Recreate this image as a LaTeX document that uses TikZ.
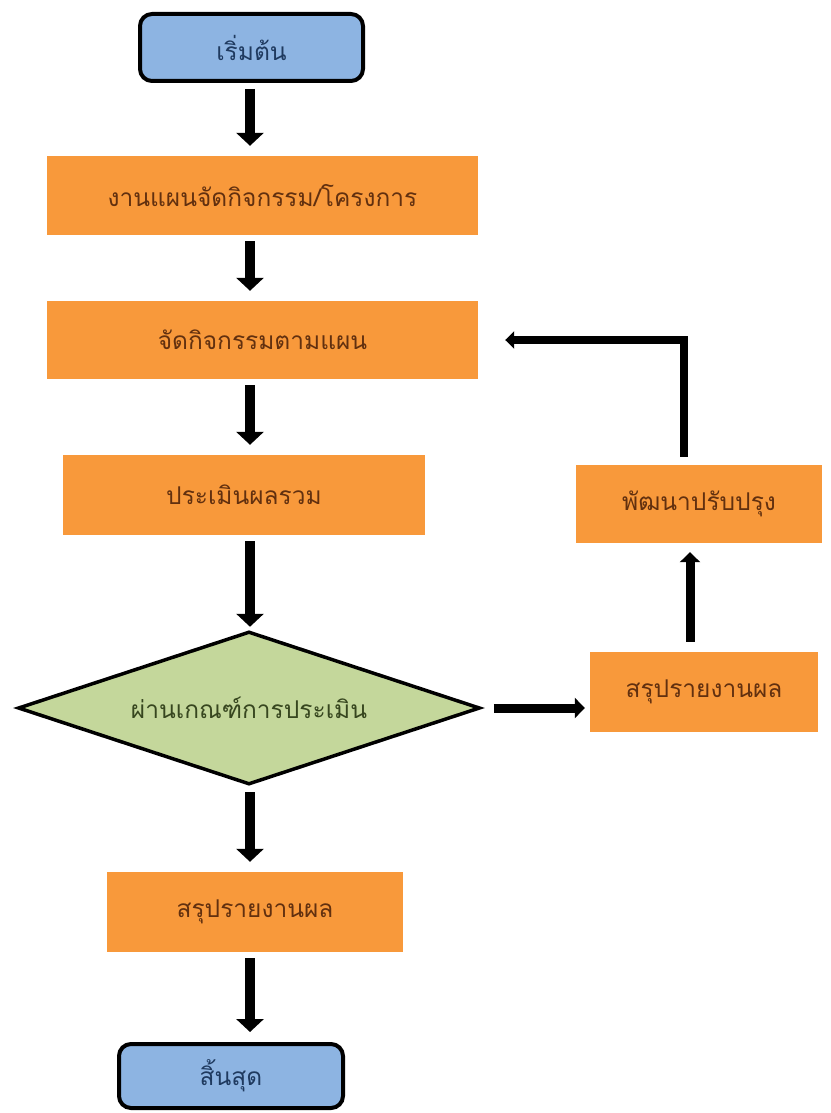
\documentclass[tikz,border=0pt]{standalone}
\usepackage{fontspec}
\newfontfamily\thaifont[Script=Thai]{Loma}
\usetikzlibrary{shapes.geometric,arrows.meta}

\definecolor{boxorange}{HTML}{F8993B}
\definecolor{boxblue}{HTML}{8DB4E2}
\definecolor{boxgreen}{HTML}{C4D79B}
\definecolor{txtbrown}{HTML}{62300F}
\definecolor{txtblue}{HTML}{1F3A5F}
\definecolor{txtgreen}{HTML}{37461F}

\begin{document}
\begin{tikzpicture}[x=1pt,y=-1pt,
  label font/.style={font=\thaifont\fontsize{24.5}{28}\selectfont},
  terminal/.style={label font, draw=black, line width=4pt, fill=boxblue,
    rounded corners=12pt, text=txtblue, inner sep=0pt},
  process/.style={label font, fill=boxorange, text=txtbrown, inner sep=0pt},
  decision/.style={label font, diamond, aspect=2.97, draw=black, line width=3.5pt,
    fill=boxgreen, text=txtgreen, inner sep=0pt},
  flow/.style={line width=10pt, -{Triangle[width=27pt,length=13pt]},
    shorten <=6pt, shorten >=10pt},
  sideflow/.style={line width=9pt, -{Triangle[width=20pt,length=10pt]}},
  loopflow/.style={line width=8pt, line join=miter, -{Triangle[width=17pt,length=9pt]}},
]
\fill[white] (0,0) rectangle (830,1113);
\useasboundingbox (0,0) rectangle (830,1113);

% main column
\node[terminal, minimum width=223pt, minimum height=67pt] (start) at (251.5,47.5) {เริ่มต้น};
\node[process, minimum width=431pt, minimum height=79pt] (plan) at (262.5,195.5) {งานแผนจัดกิจกรรม/โครงการ};
\node[process, minimum width=431pt, minimum height=78pt] (act) at (262.5,340) {จัดกิจกรรมตามแผน};
\node[process, minimum width=362pt, minimum height=80pt] (eval) at (244,495) {ประเมินผลรวม};
\node[decision, minimum width=462pt, minimum height=153pt] (pass) at (249,708) {ผ่านเกณฑ์การประเมิน};
\node[process, minimum width=296pt, minimum height=80pt] (report) at (255,912) {สรุปรายงานผล};
\node[terminal, minimum width=224pt, minimum height=64pt] (stop) at (231,1076) {สิ้นสุด};

% feedback branch
\node[process, minimum width=228pt, minimum height=80pt] (sumr) at (704,692) {สรุปรายงานผล};
\node[process, minimum width=246pt, minimum height=78pt] (improve) at (699,504) {พัฒนาปรับปรุง};

% connector columns
\coordinate (colA) at (250,0);
\coordinate (colB) at (690,0);
\coordinate (colC) at (684,0);
\coordinate (bend) at (684,340);

\draw[flow] (start.south -| colA) -- (plan.north -| colA);
\draw[flow] (plan.south -| colA) -- (act.north -| colA);
\draw[flow] (act.south -| colA) -- (eval.north -| colA);
\draw[flow, shorten >=3pt] (eval.south -| colA) -- (pass.north -| colA);
\draw[flow] (pass.south -| colA) -- (report.north -| colA);
\draw[flow] (report.south -| colA) -- (stop.north -| colA);

\draw[sideflow, shorten <=12pt, shorten >=5pt] (pass.east) -- (pass.east -| sumr.west);
\draw[sideflow, shorten <=10pt, shorten >=9pt] (sumr.north -| colB) -- (improve.south -| colB);
\draw[loopflow, shorten <=8pt, shorten >=27pt] (improve.north -| colC) -- (bend) -- (act.east);
\end{tikzpicture}
\end{document}
